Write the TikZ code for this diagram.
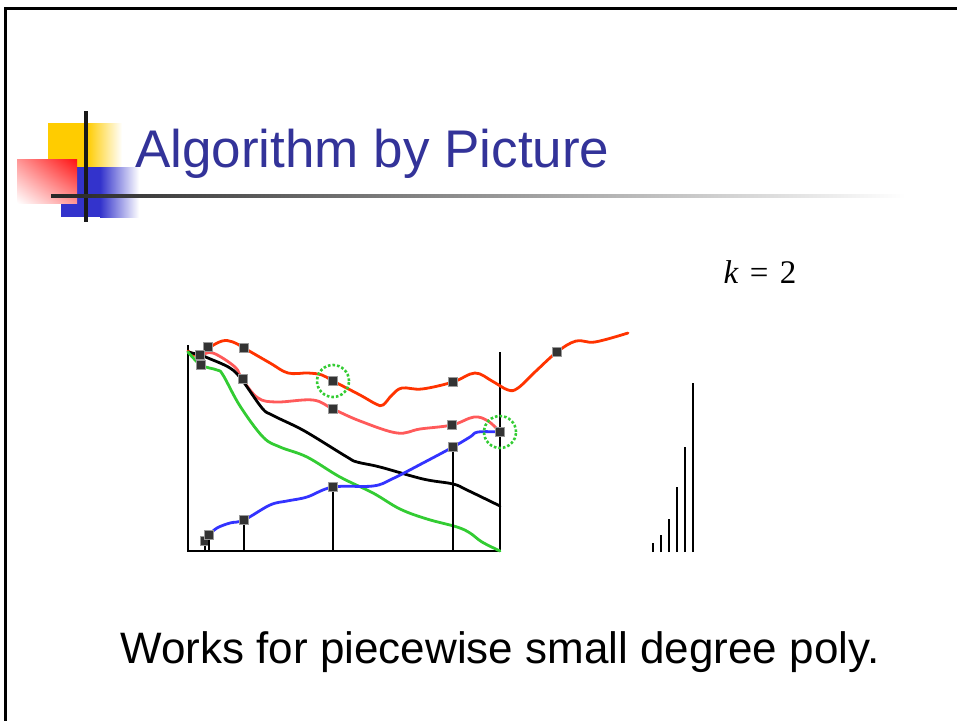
\documentclass[tikz,border=0pt]{standalone}
\usepackage[no-math]{fontspec}
\setmainfont{Liberation Sans}
\newfontfamily\titlefont{Liberation Sans}
\newfontfamily\formulafont{Liberation Serif}
\usetikzlibrary{positioning, shadings}

\definecolor{slideblue}{HTML}{333399}
\definecolor{logoyellow}{HTML}{FFCC00}
\definecolor{logoblue}{HTML}{3333CC}
\definecolor{logored}{HTML}{FF1111}
\definecolor{topcurve}{HTML}{FF3300}
\definecolor{midcurve}{HTML}{FF5A5A}
\definecolor{lowcurve}{HTML}{33CC33}
\definecolor{piececurve}{HTML}{3333FF}
\definecolor{ringgreen}{HTML}{33CC33}

\begin{document}
\begin{tikzpicture}[
    x=1pt, y=-1pt,
    curve/.style={line width=2.8pt, line cap=round, line join=round},
    knot/.style={rectangle, fill=black!80, draw=black!40, line width=0.9pt,
                 minimum size=9pt, inner sep=0pt},
    probe/.style={circle, draw=ringgreen, dotted, line width=2.6pt,
                  minimum size=32pt, inner sep=0pt},
    stem/.style={line width=2.2pt},
    bar/.style={line width=2.5pt}
]
\useasboundingbox (0,0) rectangle (957,720);

% slide frame
\draw[line width=3pt] (5.5,725) -- (5.5,8.5) -- (962,8.5);

% title logo
\fill[logoyellow] (48,123) rectangle (87,167);
\shade[left color=logoyellow, right color=white] (87,123) rectangle (122,167);
\fill[logoblue] (61,167) rectangle (100,217);
\shade[left color=logoblue, right color=white] (100,167) rectangle (139,217);
\shade[upper right=logored, lower left=white,
       upper left=logored!45!white, lower right=logored!45!white]
    (17,159) rectangle (77,203);
\draw[line width=3.5pt, black!90] (86,111) -- (86,222);
\shade[left color=black!85, right color=white] (51,194.5) rectangle (905,197.5);

% title
\node[anchor=base west, inner sep=0pt, text=slideblue,
      font=\titlefont\fontsize{53}{60}\selectfont] (title) at (135,167)
    {Algorithm by Picture};

% k
\node[anchor=base, inner sep=0pt, font=\formulafont\fontsize{33}{38}\selectfont]
    (kval) at (760,283) {{\itshape k}\hspace{0.35em}=\hspace{0.35em}2};

% axes
\coordinate (base) at (188,551);
\draw[line width=2pt] (188,345) -- (base) -- (501,551);
\draw[line width=2pt] (500,352) -- (500,551);

% curves
\draw[curve, topcurve] plot[smooth, tension=0.6] coordinates {
    (188,351) (198,356) (207,349) (222,341) (233,342) (244,348) (270,363)
    (288,373) (308,373) (322,375) (333,381) (360,395) (376,404) (383,405)
    (392,395) (402,388) (422,389) (453,382) (475,373) (492,381) (508,390)
    (518,388) (536,371) (557,352) (576,341) (595,342) (628,333)};
\draw[curve, midcurve] plot[smooth, tension=0.6] coordinates {
    (188,352) (200,355) (213,353) (235,367) (242,379) (258,398) (277,402)
    (313,400) (333,409) (360,421) (397,433) (420,429) (452,425) (474,417)
    (488,421) (500,432)};
\draw[curve, black] plot[smooth, tension=0.6] coordinates {
    (188,352) (200,355) (208,358) (230,368) (242,380) (262,408) (272,415)
    (297,427) (313,436) (347,457) (357,462) (380,467) (423,479) (453,484)
    (467,490) (500,506)};
\draw[curve, lowcurve] plot[smooth, tension=0.6] coordinates {
    (188,352) (201,365) (217,370) (223,375) (240,406) (263,437) (280,447)
    (307,457) (340,477) (373,493) (400,509) (427,519) (457,527) (470,533)
    (482,542) (500,551)};
\draw[curve, piececurve] plot[smooth, tension=0.6] coordinates {
    (209,535) (217,528) (230,523) (244,520) (270,505) (287,501) (307,497)
    (333,487) (373,486) (392,479) (423,463) (453,447) (470,437) (478,432)
    (500,432)};

% knots
\node[knot] (b1) at (205,541) {};
\node[knot] (b2) at (209,535) {};
\node[knot] (b3) at (244,520) {};
\node[knot] (b4) at (333,487) {};
\node[knot] (b5) at (453,447) {};
\node[knot] (b6) at (500,432) {};
\node[knot] (t1) at (208,347) {};
\node[knot] (t2) at (200,355) {};
\node[knot] (t3) at (201,365) {};
\node[knot] (t4) at (244,348) {};
\node[knot] (t5) at (243,379) {};
\node[knot] (t6) at (333,381) {};
\node[knot] (t7) at (333,409) {};
\node[knot] (t8) at (453,382) {};
\node[knot] (t9) at (452,425) {};
\node[knot] (t10) at (557,352) {};

% stems
\foreach \k in {b1,b2,b3,b4,b5}
    \draw[stem] (\k) -- (\k |- base);

% probes
\node[probe] (ring1) at (333,381) {};
\node[probe] (ring2) at (500,432) {};

% error bars
\foreach \x/\top in {653/543, 661/535, 669/519, 677/487, 685/447, 693/383}
    \draw[bar] (\x,552) -- (\x,\top);

% caption
\node[anchor=base, inner sep=0pt, font=\fontsize{44}{50}\selectfont]
    (note) at (500,663) {Works for piecewise small degree poly.};

\end{tikzpicture}
\end{document}
